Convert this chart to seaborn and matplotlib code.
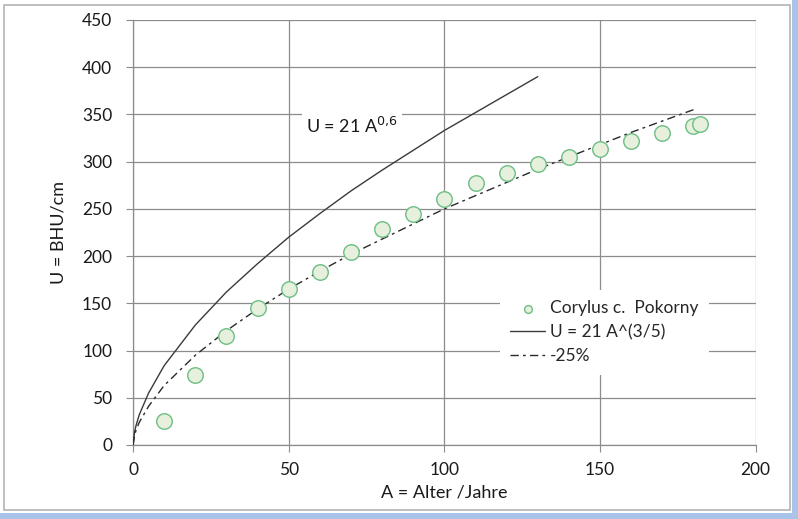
"""Corylus circumference vs. age, with 21*A^0.6 reference curve."""

import matplotlib

matplotlib.use("Agg")

import matplotlib.pyplot as plt
import pandas as pd
import seaborn as sns
from matplotlib.patches import Rectangle

# measured points (Corylus c., Pokorny)
AGE_OBS = [10, 20, 30, 40, 50, 60, 70, 80, 90, 100, 110, 120, 130, 140, 150,
           160, 170, 180, 182]
U_OBS = [25, 74, 115, 145, 165, 183, 204, 229, 245, 260, 277, 288, 297, 305,
         313, 322, 330, 338, 340]

# reference curve U = 21 A^(3/5)
AGE_FIT = [0, 0.5, 1, 2, 5, 10, 20, 30, 40, 50, 60, 70, 80, 90, 100, 110,
           120, 130]
U_FIT = [0, 14, 21, 32, 55, 84, 127, 162, 192, 220, 245, 269, 291, 312, 333,
         352, 371, 390]

# -25 % curve
AGE_LOW = [0, 0.5, 1, 2, 5, 10, 20, 30, 40, 50, 60, 70, 80, 90, 100, 110,
           120, 130, 140, 150, 160, 170, 180]
U_LOW = [0, 10, 16, 24, 41, 63, 95, 121, 144, 165, 184, 202, 218, 234, 250,
         264, 278, 292, 305, 318, 331, 343, 355]

sns.set_style("white")
plt.rcParams["font.family"] = ["Lato", "DejaVu Sans"]

fig = plt.figure(figsize=(7.98, 5.19), dpi=100)
ax = fig.add_axes([0.1667, 0.1426, 0.7803, 0.8189])

obs = pd.DataFrame({"A": AGE_OBS, "U": U_OBS})
fit = pd.DataFrame({"A": AGE_FIT, "U": U_FIT})
low = pd.DataFrame({"A": AGE_LOW, "U": U_LOW})

sns.scatterplot(data=obs, x="A", y="U", ax=ax, s=125, color="#e6f0dc",
                edgecolor="#6cbf84", linewidth=1.0, zorder=4,
                label="Corylus c.  Pokorny")
sns.lineplot(data=fit, x="A", y="U", ax=ax, color="#3a3a3a", linewidth=1.0,
             zorder=3, label="U = 21 A^(3/5)")
sns.lineplot(data=low, x="A", y="U", ax=ax, color="#2a2a2a", linewidth=1.0,
             zorder=3, label="-25%", dashes=False)
ax.lines[-1].set_dashes([6, 3, 2, 3])

ax.set_xlim(0, 200)
ax.set_ylim(0, 450)
ax.set_xticks(range(0, 201, 50))
ax.set_yticks(range(0, 451, 50))
ax.grid(True, color="#8c8c8c", linewidth=0.9)
ax.set_axisbelow(True)
for side in ["top", "right"]:
    ax.spines[side].set_visible(False)
for side in ["left", "bottom"]:
    ax.spines[side].set_color("#8c8c8c")
    ax.spines[side].set_linewidth(0.9)
ax.tick_params(axis="both", labelsize=12.5, colors="#8c8c8c",
               labelcolor="#1a1a1a", length=5, direction="out",
               left=True, bottom=True)
ax.tick_params(axis="x", pad=7)
ax.tick_params(axis="y", pad=10)

ax.set_xlabel("A = Alter /Jahre", fontsize=13, color="#1a1a1a", labelpad=5)
ax.set_ylabel("U = BHU/cm", fontsize=13, color="#1a1a1a", labelpad=11)

ax.text(55.5, 338, "U = 21 A$^{0{,}6}$", fontsize=13, color="#1a1a1a",
        va="center", ha="left",
        bbox=dict(facecolor="white", edgecolor="none", pad=3))

leg = ax.legend(loc="upper left", bbox_to_anchor=(0.575, 0.385), frameon=True,
                fontsize=12.5, handlelength=2.0, labelspacing=0.45,
                borderpad=0.6, handletextpad=0.3, markerscale=0.5)
leg.get_frame().set_facecolor("white")
leg.get_frame().set_edgecolor("none")
leg.get_frame().set_alpha(1)

# screenshot window frame
fig.patches.append(Rectangle((0.005, 0.018), 0.985, 0.972,
                             transform=fig.transFigure, fill=False,
                             edgecolor="#b4b4b4", linewidth=1.2))
fig.patches.append(Rectangle((0.992, 0.0), 0.008, 1.0,
                             transform=fig.transFigure, facecolor="#a9c4e8",
                             edgecolor="none"))
fig.patches.append(Rectangle((0.0, 0.0), 1.0, 0.012,
                             transform=fig.transFigure, facecolor="#a9c4e8",
                             edgecolor="none"))

fig.savefig("out.png", dpi=100)
plt.close(fig)
